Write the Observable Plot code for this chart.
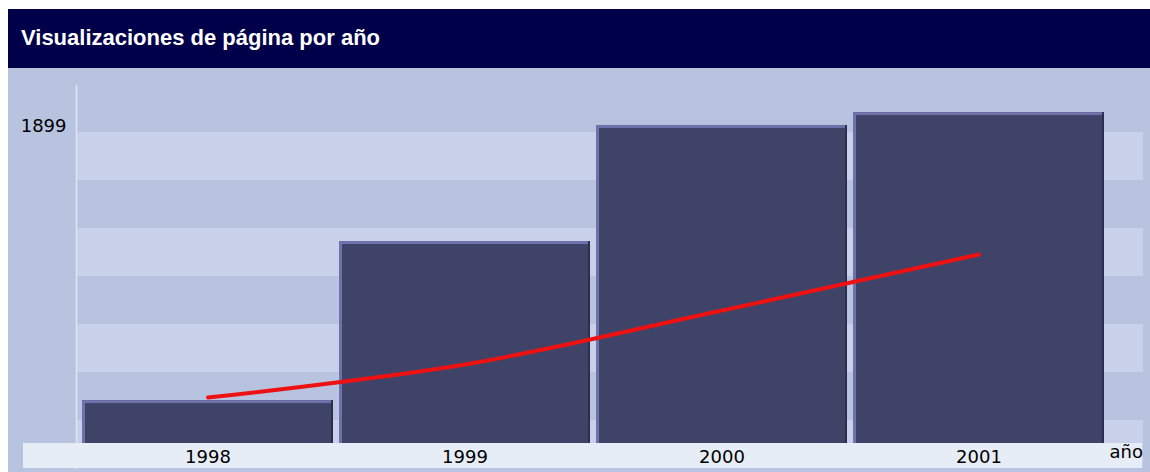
<!DOCTYPE html>
<html><head><meta charset="utf-8">
<script src="https://cdn.jsdelivr.net/npm/d3@7"></script>
<script src="https://cdn.jsdelivr.net/npm/@observablehq/plot@0.6"></script>
<style>
html,body{margin:0;padding:0;background:#fff;width:1150px;height:472px;overflow:hidden;}
#title{position:absolute;left:8px;top:9px;width:1142px;height:59px;background:#00004a;color:#fff;font:bold 22px "Liberation Sans",sans-serif;box-sizing:border-box;padding-left:13px;line-height:58px;white-space:nowrap;}
#chart{position:absolute;left:8px;top:68px;width:1142px;height:404px;background:#b8c3e0;}
</style></head><body>
<div id="title">Visualizaciones de página por año</div>
<div id="chart"></div>
<script>
const years = ["1998", "1999", "2000", "2001"];
const views = [384, 1283, 1939, 2012];
const trend = [401, 588, 893, 1210];
const yTicks = [1899];
const stripeCount = 7;
const yMax = 2165;
const xLabel = "año";

const rows = years.map((y, i) => ({year: y, views: views[i], trend: trend[i]}));
const stripes = d3.range(0, stripeCount, 2).map(k => ({
  y1: yTicks[0] * k / stripeCount,
  y2: yTicks[0] * (k + 1) / stripeCount
}));

const chart = Plot.plot({
  width: 1142,
  height: 404,
  marginTop: 17,
  marginBottom: 4,
  marginLeft: 68,
  marginRight: 39,
  style: {background: "transparent", fontFamily: "'DejaVu Sans', sans-serif", color: "#000"},
  x: {domain: years, padding: 0.023},
  y: {domain: [0, yMax]},
  marks: [
    Plot.rect(stripes, {y1: "y1", y2: "y2", fill: "#c8d0ea", insetLeft: 1, insetRight: -32}),
    Plot.frame({anchor: "left", stroke: "#dfe5f4", strokeWidth: 1.5}),
    Plot.barY(rows, {x: "year", y: "views", fill: "#2c2e4d"}),
    Plot.barY(rows, {x: "year", y: "views", fill: "#6f71aa", insetRight: 2}),
    Plot.barY(rows, {x: "year", y: "views", fill: "#404368", insetLeft: 3, insetTop: 3, insetRight: 2}),
    Plot.rect([0], {y1: () => 0, y2: () => 0, insetTop: -25, fill: "#e6edf7", insetLeft: -53, insetRight: -31}),
    Plot.line(rows, {x: "year", y: "trend", stroke: "#ee1111", strokeWidth: 4, curve: "catmull-rom"}),
    Plot.axisX({tickSize: 0, tickPadding: -18, fontSize: 18, label: null}),
    Plot.axisY(yTicks, {tickSize: 0, tickPadding: 10, fontSize: 18, dy: -6, label: null, tickFormat: d => String(d)}),
    Plot.text([xLabel], {frameAnchor: "bottom-right", textAnchor: "start", dx: -2, dy: -11, fontSize: 18})
  ]
});
document.getElementById("chart").appendChild(chart);
</script>
</body></html>
